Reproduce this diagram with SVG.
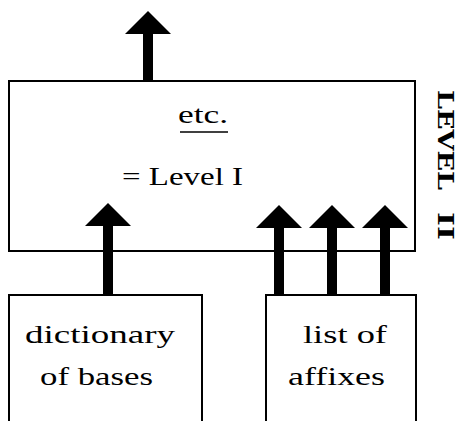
<svg xmlns="http://www.w3.org/2000/svg" width="462" height="421" viewBox="0 0 462 421">
  <style>
    .box { fill: #fff; stroke: #000; stroke-width: 2; }
    .lbl { font-family: "Liberation Serif", "Times New Roman", serif; font-size: 25px; fill: #000; }
    .side { font-family: "DejaVu Serif", "Liberation Serif", serif; font-weight: bold; font-size: 23px; fill: #000; }
    .shaft { stroke: #000; stroke-width: 10; fill: none; marker-end: url(#head); }
  </style>
  <defs>
    <marker id="head" markerUnits="userSpaceOnUse" markerWidth="23" markerHeight="46" viewBox="0 0 23 46" refX="0" refY="23" orient="auto">
      <path d="M0,0 L23,23 L0,46 Z" fill="#000"/>
    </marker>
  </defs>

  <!-- level II box -->
  <g id="level2">
    <rect class="box" x="9" y="81" width="406" height="170"/>
    <text class="lbl" x="203" y="123" text-anchor="middle" textLength="50" lengthAdjust="spacingAndGlyphs">etc.</text>
    <line x1="180" y1="132" x2="228" y2="132" stroke="#000" stroke-width="1.5"/>
    <text class="lbl" x="122" y="185" textLength="121" lengthAdjust="spacingAndGlyphs">= Level I</text>
  </g>

  <!-- source boxes -->
  <g id="dictionary">
    <rect class="box" x="9" y="295" width="193" height="140"/>
    <text class="lbl" x="25" y="343" textLength="150" lengthAdjust="spacingAndGlyphs">dictionary</text>
    <text class="lbl" x="40" y="385" textLength="113" lengthAdjust="spacingAndGlyphs">of bases</text>
  </g>
  <g id="affixes">
    <rect class="box" x="266" y="295" width="150" height="140"/>
    <text class="lbl" x="303" y="343" textLength="84" lengthAdjust="spacingAndGlyphs">list of</text>
    <text class="lbl" x="288" y="385" textLength="97" lengthAdjust="spacingAndGlyphs">affixes</text>
  </g>

  <!-- side caption, read top to bottom -->
  <g id="caption">
    <text class="side" transform="translate(438,90) rotate(90)" textLength="100" lengthAdjust="spacingAndGlyphs">LEVEL</text>
    <text class="side" transform="translate(438,212) rotate(90)" textLength="28" lengthAdjust="spacingAndGlyphs">II</text>
  </g>

  <!-- connectors -->
  <g id="connectors">
    <line class="shaft" x1="148" y1="81" x2="148" y2="34"/>
    <line class="shaft" x1="108" y1="295" x2="108" y2="226"/>
    <line class="shaft" x1="279" y1="295" x2="279" y2="228"/>
    <line class="shaft" x1="332" y1="295" x2="332" y2="228"/>
    <line class="shaft" x1="385" y1="295" x2="385" y2="228"/>
  </g>
</svg>
